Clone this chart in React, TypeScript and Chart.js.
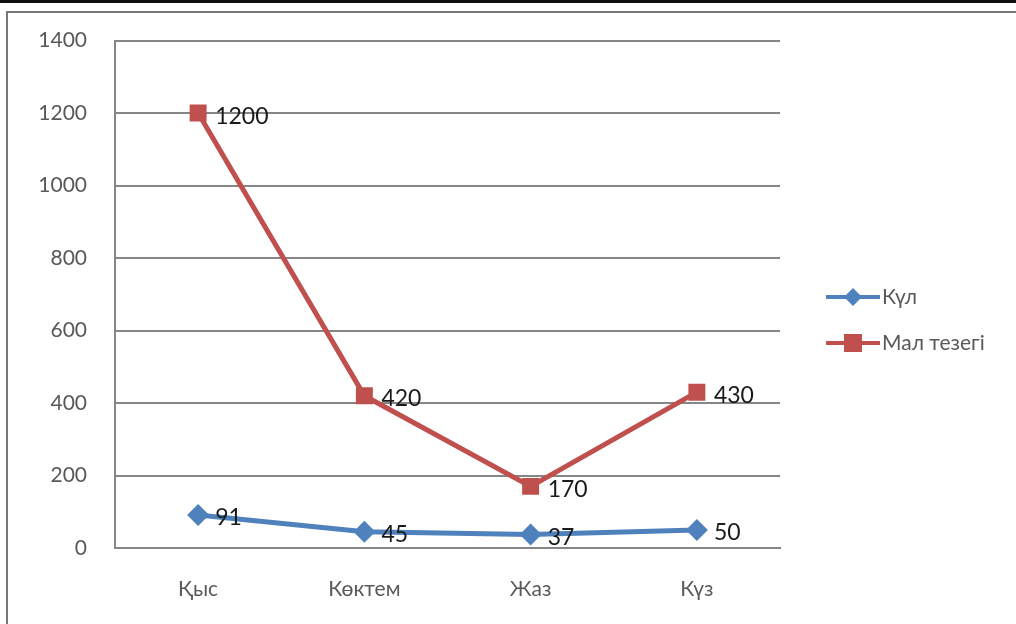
import React, { useEffect, useRef } from "react";
import { Chart, registerables } from "chart.js";

Chart.register(...registerables);

const categories = ["Қыс", "Көктем", "Жаз", "Күз"];
const kulValues = [91, 45, 37, 50];
const tezekValues = [1200, 420, 170, 430];
const seriesNames = ["Күл", "Мал тезегі"];
const yTicks = [0, 200, 400, 600, 800, 1000, 1200, 1400];

const FONT = "Lato, 'Liberation Sans', sans-serif";
const BLUE = "#4F81BD";
const RED = "#C0504D";

const labelsPlugin = {
  id: "dataLabelsAndLegend",
  afterDatasetsDraw(chart: any) {
    const ctx = chart.ctx;
    ctx.save();
    ctx.font = `23px ${FONT}`;
    ctx.fillStyle = "#1a1a1a";
    ctx.textAlign = "left";
    ctx.textBaseline = "middle";
    chart.data.datasets.forEach((ds: any, i: number) => {
      const meta = chart.getDatasetMeta(i);
      meta.data.forEach((pt: any, j: number) => {
        ctx.fillText(String(ds.data[j]), pt.x + 17, pt.y + 3);
      });
    });
    // legend
    const items = [
      { name: seriesNames[0], color: BLUE, y: 297, style: "diamond" },
      { name: seriesNames[1], color: RED, y: 343, style: "square" },
    ];
    items.forEach((it) => {
      ctx.strokeStyle = it.color;
      ctx.lineWidth = 4;
      ctx.beginPath();
      ctx.moveTo(826, it.y);
      ctx.lineTo(880, it.y);
      ctx.stroke();
      ctx.fillStyle = it.color;
      const cx = 853;
      if (it.style === "diamond") {
        ctx.beginPath();
        ctx.moveTo(cx, it.y - 9);
        ctx.lineTo(cx + 9, it.y);
        ctx.lineTo(cx, it.y + 9);
        ctx.lineTo(cx - 9, it.y);
        ctx.closePath();
        ctx.fill();
      } else {
        ctx.fillRect(cx - 9, it.y - 9, 18, 18);
      }
      ctx.fillStyle = "#595959";
      ctx.font = `21px ${FONT}`;
      ctx.fillText(it.name, 882, it.y);
    });
    ctx.restore();
  },
};

export default function App() {
  const ref = useRef<HTMLCanvasElement>(null);
  useEffect(() => {
    document.body.style.margin = "0";
    const chart = new Chart(ref.current as HTMLCanvasElement, {
      type: "line",
      data: {
        labels: categories,
        datasets: [
          {
            label: seriesNames[0],
            data: kulValues,
            borderColor: BLUE,
            backgroundColor: BLUE,
            borderWidth: 5,
            pointStyle: "rectRot",
            pointRadius: 11,
            pointBorderWidth: 0,
            tension: 0,
          },
          {
            label: seriesNames[1],
            data: tezekValues,
            borderColor: RED,
            backgroundColor: RED,
            borderWidth: 5,
            pointStyle: "rect",
            pointRadius: 12,
            pointBorderWidth: 0,
            tension: 0,
          },
        ],
      },
      options: {
        animation: false,
        responsive: false,
        layout: { padding: { left: 0, right: 236, top: 38, bottom: 0 } },
        plugins: { legend: { display: false }, tooltip: { enabled: false } },
        scales: {
          x: {
            offset: true,
            grid: { display: false, drawTicks: false },
            border: { display: true, color: "#868686", width: 2 },
            ticks: { color: "#595959", font: { family: FONT, size: 21 }, padding: 29 },
            afterFit(scale: any) {
              scale.height = 76;
            },
          },
          y: {
            min: 0,
            max: 1400,
            afterBuildTicks(scale: any) {
              scale.ticks = yTicks.map((v) => ({ value: v }));
            },
            grid: { color: "#868686", lineWidth: 2, drawTicks: false },
            border: { display: true, color: "#868686", width: 2 },
            ticks: {
              color: "#595959",
              font: { family: FONT, size: 21 },
              padding: 28,
              callback: (v: any) => String(v),
            },
            afterFit(scale: any) {
              scale.width = 115;
            },
          },
        },
      },
      plugins: [labelsPlugin],
    });
    return () => chart.destroy();
  }, []);
  return (
    <div style={{ position: "fixed", left: 0, top: 0, width: 1016, height: 624, background: "#fff", overflow: "hidden" }}>
      <div style={{ position: "absolute", left: 0, top: 0, width: 1016, height: 3, background: "#111" }} />
      <div style={{ position: "absolute", left: 6, top: 11, width: 1010, height: 620, borderTop: "2px solid #777", borderLeft: "2px solid #777" }} />
      <canvas ref={ref} width={1016} height={624} style={{ position: "absolute", left: 0, top: 0 }} />
    </div>
  );
}
